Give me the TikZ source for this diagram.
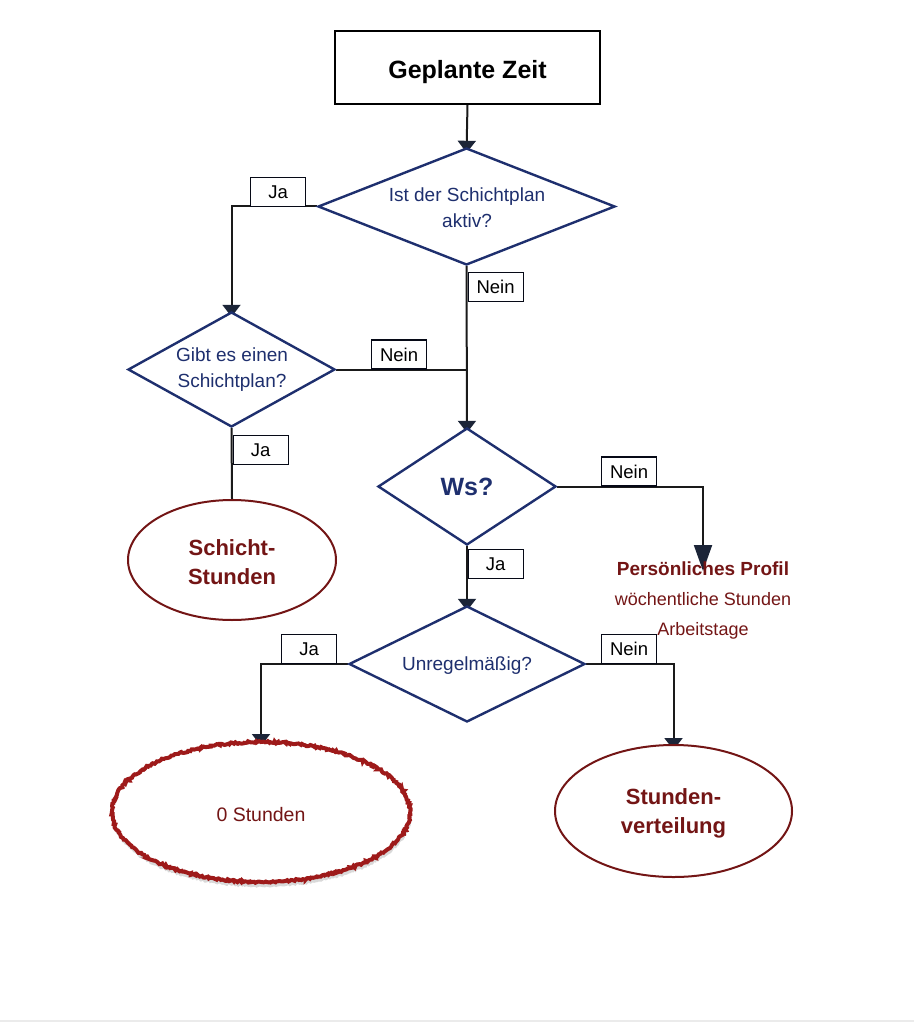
\documentclass[tikz,border=0pt]{standalone}
\usepackage{fontspec}
\setmainfont{Liberation Sans}
\usetikzlibrary{shapes.geometric,arrows.meta,calc,shadows,decorations.pathmorphing}
\pgfdeclarelayer{bg}
\pgfsetlayers{bg,main}
\definecolor{navy}{HTML}{1E2F6E}
\definecolor{dred}{HTML}{731515}
\definecolor{rough}{HTML}{9E1A1A}
\definecolor{edgec}{HTML}{1A1A1A}
\definecolor{tipc}{HTML}{1C2538}
\tikzset{
  mainbox/.style={draw=black, line width=1.6pt, fill=white, minimum width=265pt, minimum height=73pt, inner sep=0pt, text height=25pt, text depth=2pt, font=\fontsize{25}{28}\selectfont\bfseries},
  dia/.style={diamond, draw=navy, line width=2.4pt, fill=white, inner sep=0pt},
  dtext/.style={align=center, text=navy, font=\fontsize{19}{25.5}\selectfont, inner sep=0pt},
  lab/.style={draw=black!80!navy, line width=1.1pt, fill=white, minimum width=55pt, minimum height=29pt, inner sep=0pt, font=\fontsize{18.5}{20}\selectfont, anchor=south west},
  endell/.style={ellipse, draw=dred, line width=2pt, fill=white, inner sep=0pt, text=dred, align=center, font=\fontsize{22}{29.5}\selectfont\bfseries},
  flow/.style={draw=edgec, line width=2pt},
  arr/.style={flow, -{Triangle[width=18pt,length=12pt,color=tipc]}},
  bigarr/.style={flow, -{Triangle[width=18pt,length=26pt,color=tipc]}},
  proftext/.style={align=center, text=dred, inner sep=0pt, font=\fontsize{18}{30}\selectfont}
}
\begin{document}
\begin{tikzpicture}[x=1pt,y=-1pt]
\useasboundingbox (0,0) rectangle (914,1024);
\draw[black!8, line width=1.5pt] (0,1021) -- (914,1021);

% nodes
\node[mainbox] (top) at (467.5,67.5) {Geplante Zeit};

\node[dia, minimum width=297pt, minimum height=117pt] (d1) at (466.5,206.5) {};
\node[dtext] (t1) at (467,207.5) {Ist der Schichtplan\\aktiv?};

\node[dia, minimum width=207pt, minimum height=115pt] (d2) at (231.5,369.5) {};
\node[dtext] (t2) at (232,369.5) {Gibt es einen\\Schichtplan?};

\node[dia, minimum width=178pt, minimum height=117pt] (d3) at (467,486.5) {};
\node[dtext, font=\fontsize{25}{28}\selectfont\bfseries] (t3) at (467,487) {Ws?};

\node[dia, minimum width=236pt, minimum height=116pt] (d4) at (467,664) {};
\node[dtext] (t4) at (467,665.5) {Unregelmäßig?};

\node[endell, minimum width=208pt, minimum height=120pt] (e1) at (232,560) {};
\node[endell, draw=none, fill=none] (e1t) at (232,562) {Schicht-\\Stunden};

\node[ellipse, minimum width=298pt, minimum height=140pt, inner sep=0pt, fill=white,
      draw=rough, line width=4pt, decorate,
      decoration={random steps, segment length=1.5pt, amplitude=1pt},
      drop shadow={shadow xshift=1pt, shadow yshift=-5pt, opacity=0.25, fill=black!60},
      text=dred, font=\fontsize{19.5}{22}\selectfont] (e2) at (261,812) {};
\node[text=dred, font=\fontsize{19.5}{22}\selectfont, inner sep=0pt] (e2t) at (261,815) {0 Stunden};

\node[endell, minimum width=237pt, minimum height=132pt] (e3) at (673.5,811) {};
\node[endell, draw=none, fill=none] (e3t) at (673.5,813.5) {Stunden-\\verteilung};

\node[proftext, anchor=north] (prof) at (703,562)
  {{\fontsize{19}{30}\selectfont\bfseries Persönliches Profil}\\wöchentliche Stunden\\Arbeitstage};
\coordinate (ptip) at (703,571);

% labels
\node[lab] (ja1) at (250,207) {Ja};
\node[lab] (nein1) at (467.5,302) {Nein};
\node[lab] (nein2) at (371,369.5) {Nein};
\node[lab] (ja3) at (232.5,465) {Ja};
\node[lab] (nein4) at (601,486.5) {Nein};
\node[lab] (ja5) at (467.5,579) {Ja};
\node[lab] (ja6) at (281,664) {Ja};
\node[lab] (nein7) at (601,664) {Nein};

\coordinate (j1) at (d1.south |- d2.east);

% connectors
\begin{pgfonlayer}{bg}
\draw[arr] (top.south) -- ($(d1.north)+(0,6)$);
\draw[arr] (d1.west) -| ($(d2.north)+(0,6)$);
\draw[arr] (d1.south) -- ($(d3.north)+(0,6)$);
\draw[flow] (d2.east) -- (j1);
\draw[flow] (d2.south) -- (e1.north);
\draw[bigarr] (d3.east) -| (ptip);
\draw[arr] (d3.south) -- ($(d4.north)+(0,6)$);
\draw[arr] (d4.west) -| ($(e2.north)+(0,6)$);
\draw[arr] (d4.east) -| ($(e3.north)+(0,6)$);
\end{pgfonlayer}
\end{tikzpicture}
\end{document}
